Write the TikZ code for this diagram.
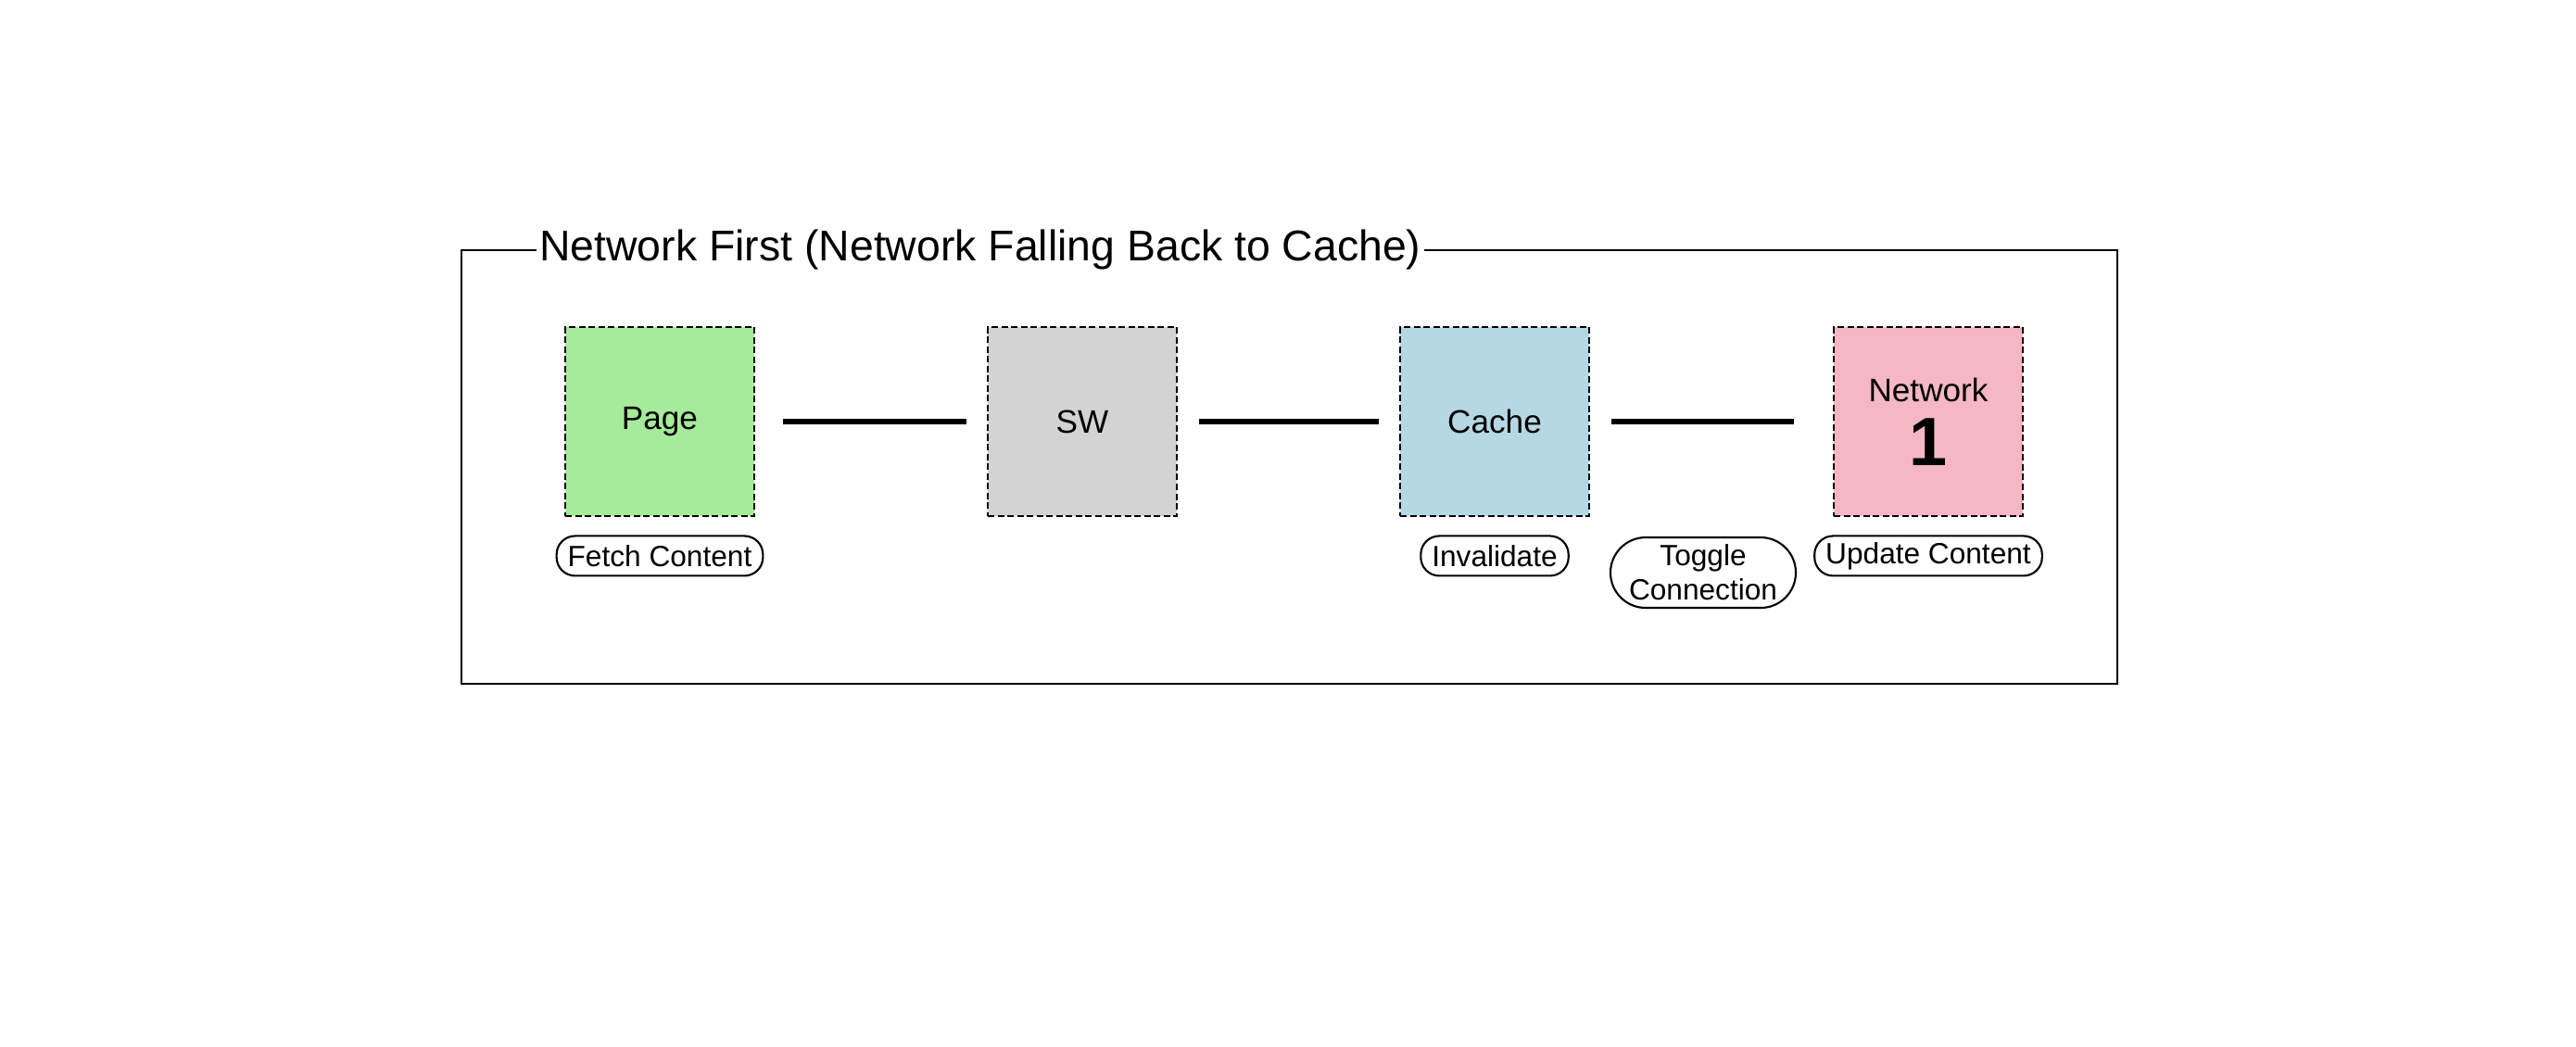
\documentclass[tikz,border=0pt]{standalone}
\usepackage{fontspec}
\setmainfont{Liberation Sans}
\usetikzlibrary{positioning}
\definecolor{pagegreen}{RGB}{166,235,153}
\definecolor{swgray}{RGB}{211,211,211}
\definecolor{cacheblue}{RGB}{182,216,228}
\definecolor{netpink}{RGB}{244,183,195}

\begin{document}
\begin{tikzpicture}[
  box node/.style={draw,dash pattern=on 2pt off 1pt,line width=0.8pt,minimum size=2.04cm,
    inner sep=0pt,align=center,font=\fontsize{10}{12}\selectfont},
  tag node/.style={draw,line width=0.6pt,rounded corners=0.2cm,fill=white,minimum height=0.43cm,
    inner xsep=0.12cm,inner ysep=0pt,align=center,font=\fontsize{9}{10.5}\selectfont},
  link/.style={line width=1.5pt,shorten <=0.23cm,shorten >=0.22cm}]
  \useasboundingbox (0,0) rectangle (27.8,11.3);
  % frame with its title on the top line
  \draw[line width=0.6pt] (4.98,3.92) rectangle (22.85,8.60);
  \node[fill=white,inner xsep=1pt,inner ysep=1pt,anchor=west,font=\fontsize{13.2}{15}\selectfont]
    (title) at (5.78,8.60) {Network First (Network Falling Back to Cache)};
  % the four parties
  \node[box node,fill=pagegreen] (page)  at (7.12,6.75)  {Page};
  \node[box node,fill=swgray]    (sw)    at (11.68,6.75) {SW};
  \node[box node,fill=cacheblue] (cache) at (16.13,6.75) {Cache};
  \node[box node,fill=netpink]   (net)   at (20.81,6.75)
    {Network\\[4pt]{\fontsize{21}{24}\selectfont\bfseries 1}};
  % buttons
  \node[tag node] (fetch)  [below=0.19cm of page]  {Fetch Content};
  \node[tag node] (inval)  [below=0.19cm of cache] {Invalidate};
  \node[tag node] (update) [below=0.19cm of net]   {Update Content};
  \path (cache) -- node[tag node,below=1.24cm,xshift=-0.09cm,rounded corners=0.38cm,
    inner xsep=0.2cm,minimum height=0.76cm] (toggle) {Toggle\\Connection} (net);
  \path
    (page)  edge[link,shorten <=0.3cm] (sw)
    (sw)    edge[link] (cache)
    (cache) edge[link,shorten >=0.42cm] (net);
\end{tikzpicture}
\end{document}
